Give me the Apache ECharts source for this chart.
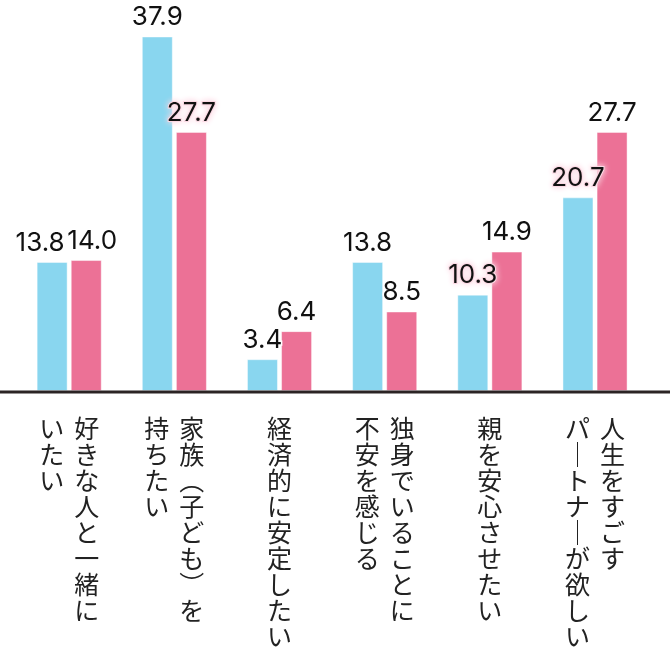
<!DOCTYPE html>
<html>
<head>
<meta charset="utf-8">
<script src="https://cdn.jsdelivr.net/npm/echarts@6/dist/echarts.min.js"></script>
<style>
html,body{margin:0;padding:0;background:#fff;}
#c{width:670px;height:670px;}
</style>
</head>
<body>
<div id="c"></div>
<script>
// Categories: "\n" separates the right (first) and left (second) vertical columns
const categories = [
  '好きな人と一緒に\nいたい',
  '家族(子ども)を\n持ちたい',
  '経済的に安定したい',
  '独身でいることに\n不安を感じる',
  '親を安心させたい',
  '人生をすごす\nパートナーが欲しい'
];
const blueValues = [13.8, 37.9, 3.4, 13.8, 10.3, 20.7];
const pinkValues = [14.0, 27.7, 6.4, 8.5, 14.9, 27.7];

const BLUE = '#89d6ef';
const PINK = '#ec7196';
const HALO_PINK = '#fbd9e4';

function vert(ch) {
  if (ch === '(') return '︵';
  if (ch === ')') return '︶';
  if (ch === 'ー') return '｜';
  return ch;
}

function verticalLabel(str) {
  const cols = str.split('\n').map(s => Array.from(s).map(vert));
  const rows = Math.max(...cols.map(c => c.length));
  const lines = [];
  for (let i = 0; i < rows; i++) {
    if (cols.length === 1) {
      lines.push('{s|' + cols[0][i] + '}');
    } else {
      const r = cols[0][i] || '　';
      const l = cols[1][i] || '　';
      lines.push('{l|' + l + '}{r|' + r + '}');
    }
  }
  return lines.join('\n');
}

// label style tweaks (index-based)
const blueOffsets = {0: [-12, 0]};
const pinkOffsets = {0: [6, 0]};
const blueHalo = {4: true, 5: true};
const pinkHalo = {1: true};

function buildData(values, offsets, halos) {
  return values.map((v, i) => {
    const item = { value: v };
    const lab = {};
    if (offsets[i]) lab.offset = offsets[i];
    if (halos[i]) {
      lab.textBorderColor = HALO_PINK;
      lab.textBorderWidth = 2;
      lab.textShadowColor = HALO_PINK;
      lab.textShadowBlur = 6;
    }
    if (Object.keys(lab).length) item.label = lab;
    return item;
  });
}

const labelBase = {
  show: true,
  position: 'top',
  distance: 6,
  color: '#111',
  fontFamily: 'Inter, "Liberation Sans", sans-serif',
  fontSize: 26,
  textBorderColor: '#fff',
  textBorderWidth: 3,
  formatter: p => p.value.toFixed(1)
};

const chart = echarts.init(document.getElementById('c'), null, {renderer: 'canvas'});
const lab = { fontFamily: '"Noto Sans CJK JP", sans-serif', fontSize: 25, lineHeight: 26, color: '#222' };
chart.setOption({
  animation: false,
  backgroundColor: '#fff',
  grid: { left: 16.6, right: 22.4, top: 0, bottom: 279, containLabel: false },
  xAxis: {
    type: 'category',
    data: categories,
    axisLine: { show: false },
    axisTick: { show: false },
    axisLabel: {
      interval: 0,
      margin: 24,
      formatter: v => verticalLabel(v),
      rich: {
        l: Object.assign({ width: 35, align: 'left' }, lab),
        r: Object.assign({ width: 25, align: 'left' }, lab),
        s: Object.assign({ width: 25, align: 'left' }, lab)
      }
    }
  },
  yAxis: {
    type: 'value',
    min: 0,
    max: 41.8,
    show: false,
    splitLine: { show: false }
  },
  series: [
    {
      type: 'bar',
      data: buildData(blueValues, blueOffsets, blueHalo),
      barWidth: 31,
      barGap: '10%',
      itemStyle: { color: BLUE, borderColor: 'rgba(255,255,255,0.45)', borderWidth: 1 },
      label: labelBase
    },
    {
      type: 'bar',
      data: buildData(pinkValues, pinkOffsets, pinkHalo),
      barWidth: 31,
      barGap: '10%',
      itemStyle: { color: PINK, borderColor: 'rgba(255,255,255,0.45)', borderWidth: 1 },
      label: labelBase
    }
  ],
  graphic: [{
    type: 'line',
    shape: { x1: 0, y1: 392, x2: 670, y2: 392 },
    style: { stroke: '#2b2424', lineWidth: 3 },
    z: 10
  }]
});
</script>
</body>
</html>
